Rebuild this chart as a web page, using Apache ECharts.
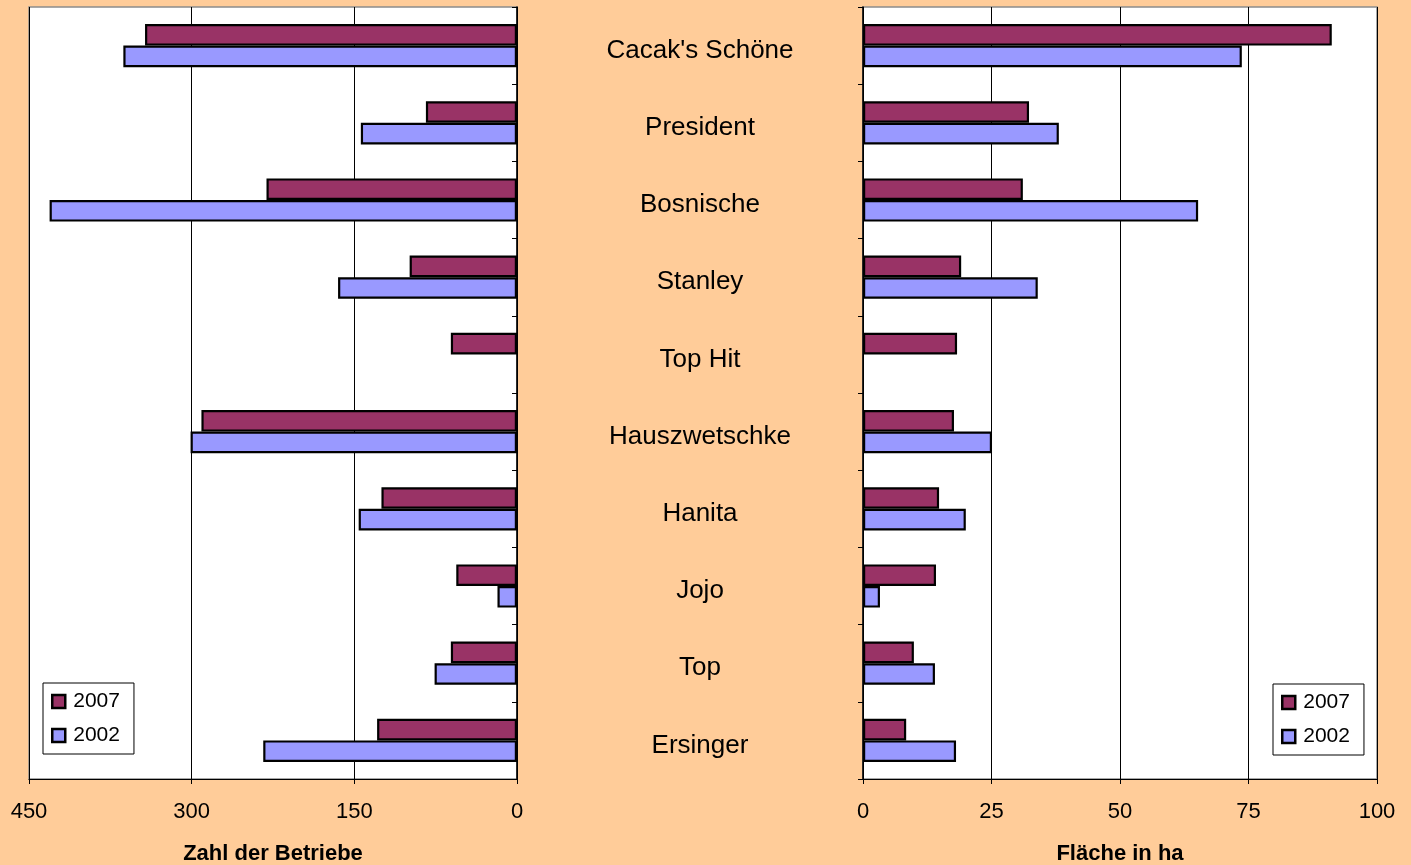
<!DOCTYPE html>
<html>
<head>
<meta charset="utf-8">
<script src="https://cdn.jsdelivr.net/npm/echarts@6/dist/echarts.min.js"></script>
<style>
  html, body { margin: 0; padding: 0; background: #ffcc99; }
  #chart { width: 1411px; height: 865px; }
</style>
</head>
<body>
<div id="chart"></div>
<script>
// Sorten (von oben nach unten)
const sorten = ['Cacak\'s Schöne', 'President', 'Bosnische', 'Stanley', 'Top Hit',
  'Hauszwetschke', 'Hanita', 'Jojo', 'Top', 'Ersinger']

// Zahl der Betriebe
const betriebe2007 = [343, 84, 231, 99, 61, 291, 125, 56, 61, 129]
const betriebe2002 = [363, 144, 431, 165, null, 301, 146, 18, 76, 234]

// Fläche in ha
const flaeche2007 = [91.2, 32.3, 31.1, 19.1, 18.3, 17.7, 14.8, 14.2, 9.9, 8.4]
const flaeche2002 = [73.7, 38.1, 65.2, 34.0, null, 25.1, 20.0, 3.3, 14.0, 18.1]

const betriebeTicks = { min: 0, max: 450, interval: 150 }
const flaecheTicks = { min: 0, max: 100, interval: 25 }

const FONT = '"Liberation Sans", Arial, sans-serif'
const c2007 = '#993366'
const c2002 = '#9999ff'

const chart = echarts.init(document.getElementById('chart'), null, { renderer: 'canvas' })

const gridBase = {
  top: 7,
  bottom: 86,
  show: true,
  outerBoundsMode: 'none',
  containLabel: false,
  backgroundColor: '#ffffff',
  borderColor: '#8c8c8c',
  borderWidth: 1.5,
}

const valueAxis = (idx, ticks, name, inverse) => ({
  type: 'value',
  gridIndex: idx,
  inverse,
  min: ticks.min,
  max: ticks.max,
  interval: ticks.interval,
  name,
  nameLocation: 'middle',
  nameGap: 64,
  nameTextStyle: { color: '#000', fontSize: 22, fontWeight: 'bold', fontFamily: FONT },
  axisLine: { show: true, lineStyle: { color: '#000', width: 1 } },
  axisTick: { show: true, length: 5, lineStyle: { color: '#000' } },
  axisLabel: { color: '#000', fontSize: 22, fontFamily: FONT, margin: 22 },
  splitLine: { show: true, lineStyle: { color: '#000', width: 1 } },
})

const legend = (left, top) => ({
  left,
  top,
  orient: 'vertical',
  data: ['2007', '2002'],
  icon: 'rect',
  itemWidth: 13,
  itemHeight: 13,
  itemGap: 13,
  padding: [8, 14, 8, 8],
  backgroundColor: '#ffffff',
  borderColor: '#000',
  borderWidth: 1,
  selectedMode: false,
  itemStyle: { borderColor: '#000', borderWidth: 2.5 },
  textStyle: { color: '#000', fontSize: 21, fontFamily: FONT, padding: [0, 0, 0, 3] },
})

const barSeries = (name, data, idx, color) => ({
  name,
  type: 'bar',
  xAxisIndex: idx,
  yAxisIndex: idx,
  data,
  barGap: '0%',
  barCategoryGap: '44%',
  itemStyle: { color, borderColor: '#000', borderWidth: 2.2 },
  emphasis: { disabled: true },
  animation: false,
})

chart.setOption({
  backgroundColor: '#ffcc99',
  textStyle: { fontFamily: FONT },
  grid: [
    { ...gridBase, left: 29, right: 894 },
    { ...gridBase, left: 863, right: 34 },
  ],
  legend: [legend(43, 683), legend(1273, 684)],
  xAxis: [
    valueAxis(0, betriebeTicks, 'Zahl der Betriebe', true),
    valueAxis(1, flaecheTicks, 'Fläche in ha', false),
  ],
  yAxis: [
    {
      type: 'category',
      gridIndex: 0,
      data: sorten,
      inverse: true,
      position: 'right',
      axisLine: { show: true, lineStyle: { color: '#000', width: 1.5 } },
      axisTick: { show: true, inside: true, length: 5, lineStyle: { color: '#000' } },
      axisLabel: {
        show: true,
        color: '#000',
        fontSize: 26,
        fontFamily: FONT,
        align: 'center',
        margin: 183,
        formatter: (v) => '{n|' + v + '}',
        rich: { n: { fontSize: 26, fontFamily: FONT, color: '#000', padding: [10, 0, 0, 0] } },
      },
      splitLine: { show: false },
    },
    {
      type: 'category',
      gridIndex: 1,
      data: sorten,
      inverse: true,
      position: 'left',
      axisLine: { show: true, lineStyle: { color: '#000', width: 1.5 } },
      axisTick: { show: true, length: 5, lineStyle: { color: '#000' } },
      axisLabel: { show: false },
      splitLine: { show: false },
    },
  ],
  series: [
    barSeries('2007', betriebe2007, 0, c2007),
    barSeries('2002', betriebe2002, 0, c2002),
    barSeries('2007', flaeche2007, 1, c2007),
    barSeries('2002', flaeche2002, 1, c2002),
  ],
})

window.addEventListener('resize', () => chart.resize())
</script>
</body>
</html>
